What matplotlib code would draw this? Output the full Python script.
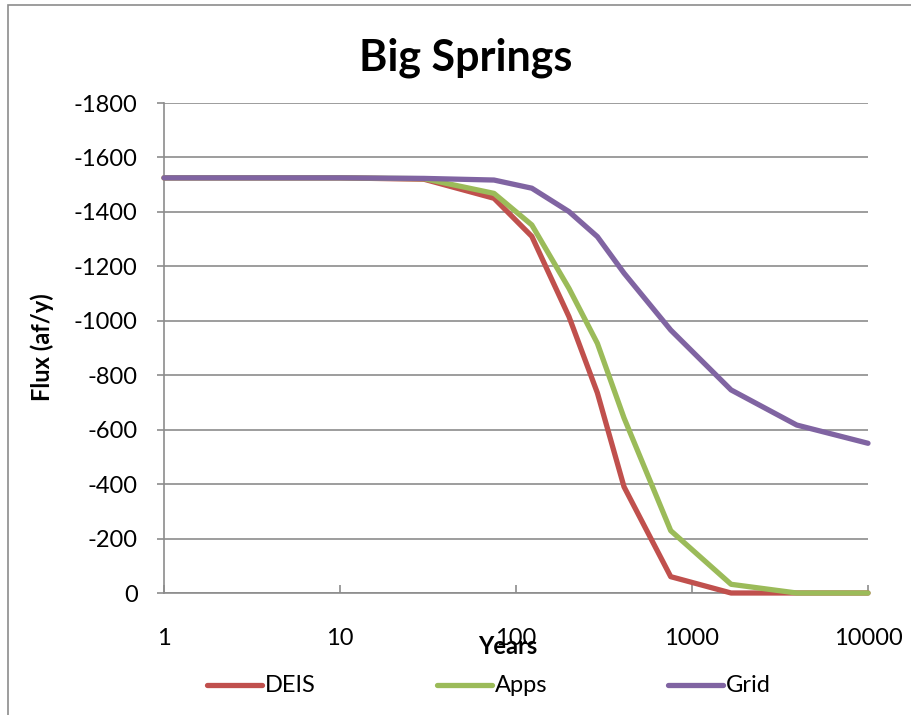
import numpy as np
import matplotlib.pyplot as plt
from matplotlib.lines import Line2D
from matplotlib.patches import Rectangle

plt.rcParams['font.family'] = ['Lato', 'DejaVu Sans']

# --- data ---
years = [1, 10, 30, 75, 123, 200, 290, 411, 757, 1667, 3936, 10000]
deis = [-1525, -1525, -1520, -1450, -1310, -1015, -735, -390, -60, 0, 0, 0]
apps = [-1525, -1525, -1522, -1468, -1352, -1119, -917, -643, -229, -32, 0, 0]
grid = [-1525, -1525, -1523, -1517, -1487, -1401, -1309, -1175, -966, -746, -617, -550]

series = [("DEIS", deis, '#C0504D'), ("Apps", apps, '#9BBB59'), ("Grid", grid, '#8064A2')]
y_ticks = list(range(0, -2000, -200))
x_ticks = [1, 10, 100, 1000, 10000]

fig = plt.figure(figsize=(9.12, 7.15), dpi=100)
fig.patch.set_facecolor('white')

# outer chart border (Excel chart area)
fig.add_artist(Rectangle((8 / 912, -0.05), 1.2, 1 - 5 / 715 + 0.05, transform=fig.transFigure,
                         fill=False, edgecolor='#8c8c8c', lw=1.2))

ax = fig.add_axes([164 / 912, 1 - 593 / 715, (868 - 164) / 912, (593 - 103) / 715])
for name, vals, col in series:
    ax.plot(years, vals, color=col, lw=3.8, solid_capstyle='round', clip_on=False, zorder=3)

ax.set_xscale('log')
ax.set_xlim(1, 10000)
ax.set_ylim(0, -1800)
ax.set_xticks(x_ticks)
ax.set_xticklabels([str(v) for v in x_ticks])
ax.minorticks_off()
ax.set_yticks(y_ticks)
ax.set_yticklabels([str(v) for v in y_ticks])
ax.yaxis.grid(True, color='#8c8c8c', lw=1.2)
ax.set_axisbelow(True)
for s in ['top', 'right']:
    ax.spines[s].set_visible(False)
for s in ['left', 'bottom']:
    ax.spines[s].set_color('#8c8c8c')
    ax.spines[s].set_linewidth(1.2)
ax.tick_params(axis='x', direction='in', length=6, color='#8c8c8c', width=1.2,
               labelsize=17, pad=25)
ax.tick_params(axis='y', direction='out', length=5, color='#8c8c8c', width=1.2,
               labelsize=17, pad=14)

fig.text(466 / 912, 1 - 58 / 715, "Big Springs", ha='center', va='center',
         fontsize=31, fontweight='bold')
fig.text(508 / 912, 1 - 646 / 715, "Years", ha='center', va='center',
         fontsize=17, fontweight='bold')
fig.text(42 / 912, 1 - 347 / 715, "Flux (af/y)", ha='center', va='center',
         rotation=90, fontsize=17, fontweight='bold')

# legend row at the bottom
leg_x = [207, 437, 668]
for (name, vals, col), lx in zip(series, leg_x):
    y = 1 - 685 / 715
    fig.add_artist(Line2D([lx / 912, (lx + 55) / 912], [y, y], transform=fig.transFigure,
                          color=col, lw=3.8, solid_capstyle='round'))
    fig.text((lx + 58) / 912, y, name, ha='left', va='center', fontsize=17)

fig.savefig('out.png', dpi=100)
